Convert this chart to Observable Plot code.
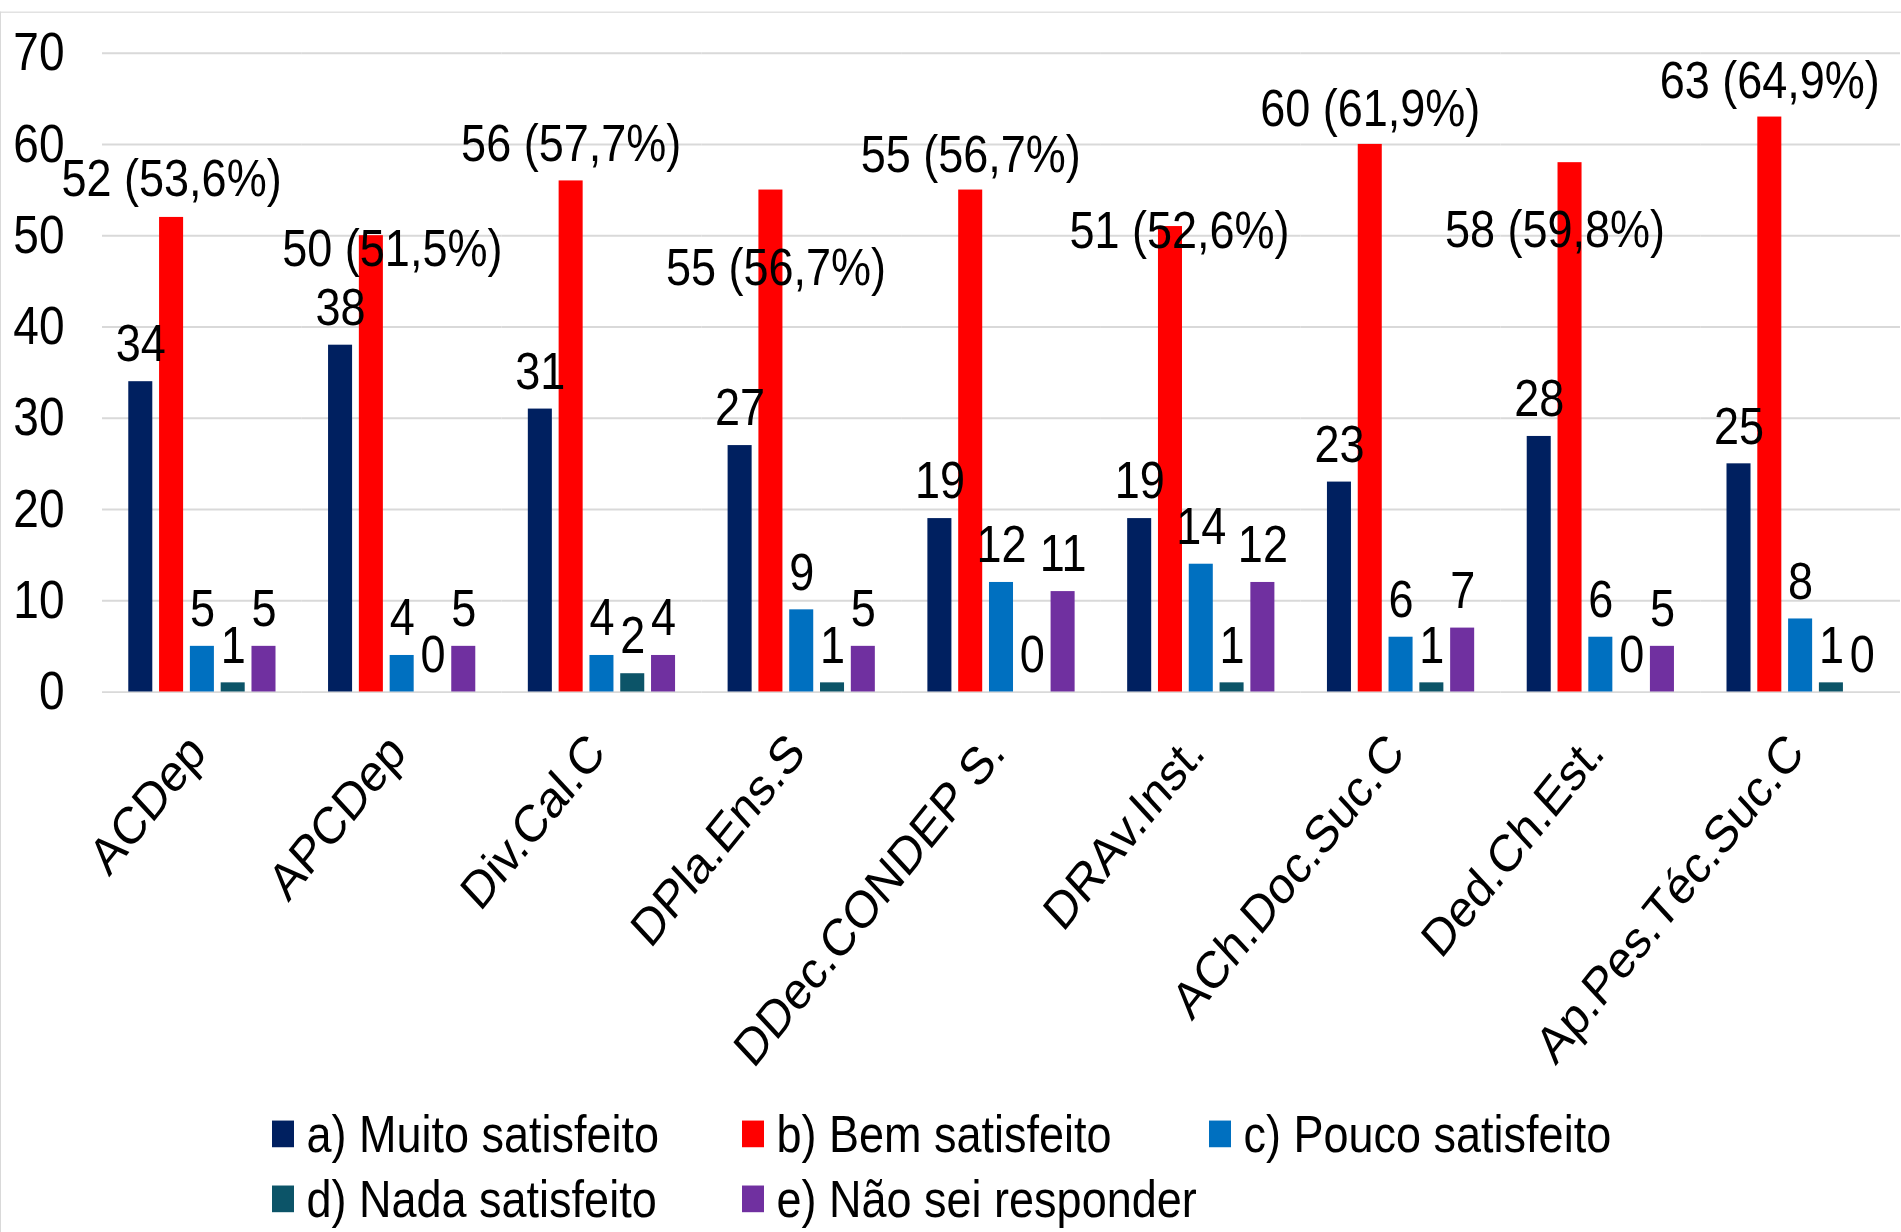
<!DOCTYPE html>
<html>
<head>
<meta charset="utf-8">
<script src="https://cdn.jsdelivr.net/npm/d3@7"></script>
<script src="https://cdn.jsdelivr.net/npm/@observablehq/plot@0.6"></script>
<style>
  html, body { margin: 0; padding: 0; background: #fff; overflow: hidden; }
  #page { position: relative; width: 1901px; height: 1232px; overflow: hidden; background: #fff; }
  #stage {
    position: absolute; left: 0; top: 0; width: 1901px; height: 1062px;
    transform: scaleY(1.16); transform-origin: 0 0;
    font-family: "Liberation Sans", Arial, sans-serif;
  }
  #border {
    position: absolute; left: 0; top: 10px; width: 1905px; height: 1200px;
    border-top: 1.5px solid #d9d9d9; border-left: 1.5px solid #d9d9d9;
    pointer-events: none;
  }
  #chart { position: absolute; left: 0; top: 0; }
  #legend {
    position: absolute; left: 272px; top: 946.6px;
    display: grid; grid-template-columns: 470px 467px 470px;
    font-size: 45px; line-height: 1; color: #000;
  }
  .item { display: flex; align-items: center; height: 62px; white-space: nowrap; }
  .item:nth-child(n+4) { height: 50px; }
  .sw { width: 22px; height: 23px; margin-right: 12.5px; flex: none; }
</style>
</head>
<body>
<div id="page">
<div id="stage">
  <div id="border"></div>
  <div id="chart"></div>
  <div id="legend"></div>
</div>
</div>
<script>
// ---- data ----
const categories = ["ACDep", "APCDep", "Div.Cal.C", "DPla.Ens.S", "DDec.CONDEP S.", "DRAv.Inst.", "ACh.Doc.Suc.C", "Ded.Ch.Est.", "Ap.Pes.Téc.Suc.C"];
const series = ["a) Muito satisfeito", "b) Bem satisfeito", "c) Pouco satisfeito", "d) Nada satisfeito", "e) Não sei responder"];
const muitoSatisfeito = [34, 38, 31, 27, 19, 19, 23, 28, 25];
const bemSatisfeito   = [52, 50, 56, 55, 55, 51, 60, 58, 63];
const poucoSatisfeito = [5, 4, 4, 9, 12, 14, 6, 6, 8];
const nadaSatisfeito  = [1, 0, 2, 1, 0, 1, 1, 0, 1];
const naoSeiResponder = [5, 5, 4, 5, 11, 12, 7, 5, 0];
const bemPercentLabels = ["53,6%", "51,5%", "57,7%", "56,7%", "56,7%", "52,6%", "61,9%", "59,8%", "64,9%"];
const yTicks = [0, 10, 20, 30, 40, 50, 60, 70];

// ---- styles / layout ----
const colors = ["#002060", "#FF0000", "#0070C0", "#0C5468", "#7030A0"];
const redLabelDx = [0, 21, 0, 5, 0, 9, 0, -15, 0];
const redLabelDy = [-33, 12, -32, 67, -30, 4, -30, 58, -31];

const seriesValues = [muitoSatisfeito, bemSatisfeito, poucoSatisfeito, nadaSatisfeito, naoSeiResponder];
const rows = [];
categories.forEach((c, i) => {
  series.forEach((s, j) => {
    rows.push({category: c, series: s, value: seriesValues[j][i], idx: i, sIdx: j});
  });
});
const otherRows = rows.filter(d => d.sIdx !== 1);
const redRows = rows.filter(d => d.sIdx === 1);

const H = 940;
const chart = Plot.plot({
  width: 1901,
  height: H,
  marginLeft: 102,
  marginRight: 1,
  marginTop: 45.4,
  marginBottom: H - 596.1,
  style: {fontFamily: "'Liberation Sans', Arial, sans-serif", fontSize: "46px", color: "#000", background: "transparent", overflow: "visible"},
  fx: {domain: categories, padding: 0, round: false, axis: null, label: null},
  x: {domain: series, paddingInner: 0.22, paddingOuter: 0.853, round: false, axis: null},
  y: {domain: [0, 70], ticks: yTicks, tickSize: 0, tickPadding: 38, label: null, tickFormat: d => String(d)},
  color: {domain: series, range: colors},
  marks: [
    Plot.ruleY(yTicks, {stroke: "#d9d9d9", strokeWidth: 1.6}),
    Plot.barY(rows, {fx: "category", x: "series", y: "value", fill: "series"}),
    Plot.text(otherRows, {fx: "category", x: "series", y: "value", text: d => String(d.value),
      dy: -32, fontSize: 45, fill: "#000", lineAnchor: "middle"}),
    ...categories.map((c, i) => Plot.text(redRows.filter(d => d.idx === i), {
      fx: "category", x: "series", y: "value",
      text: d => `${d.value} (${bemPercentLabels[d.idx]})`,
      dx: redLabelDx[i], dy: redLabelDy[i], fontSize: 45, fill: "#000", lineAnchor: "middle"
    })),
    Plot.text(categories, {fx: d => d, frameAnchor: "bottom", text: d => d, rotate: -47,
      textAnchor: "end", lineAnchor: "middle", dx: -5, dy: 44, fontSize: 45, fill: "#000"})
  ]
});
document.getElementById("chart").appendChild(chart);

const legend = document.getElementById("legend");
series.forEach((s, j) => {
  const item = document.createElement("div");
  item.className = "item";
  const sw = document.createElement("span");
  sw.className = "sw";
  sw.style.background = colors[j];
  const t = document.createElement("span");
  t.textContent = s;
  item.appendChild(sw);
  item.appendChild(t);
  legend.appendChild(item);
});
</script>
</body>
</html>
